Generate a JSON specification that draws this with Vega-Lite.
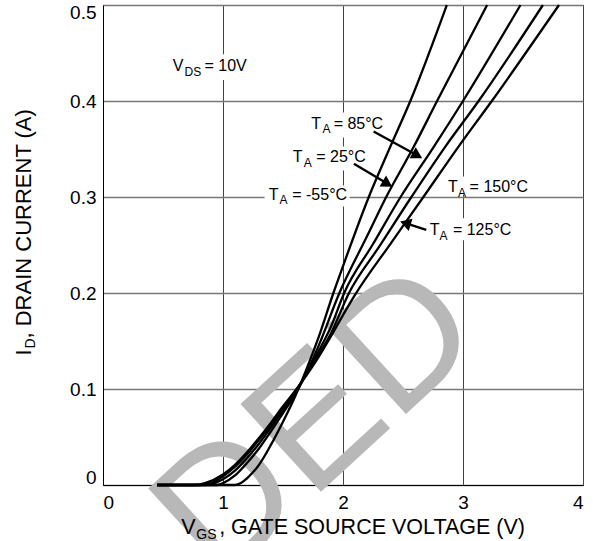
{
  "$schema": "https://vega.github.io/schema/vega-lite/v6.json",
  "width": 480,
  "height": 480,
  "autosize": {"type": "none"},
  "padding": {"left": 103, "top": 5, "right": 10, "bottom": 56},
  "background": "white",
  "config": {"view": {"stroke": "black", "strokeWidth": 1}, "font": "Liberation Sans"},
  "datasets": {
    "curves": [
      {"s": "-55", "x": 0.45, "y": 0}, {"s": "-55", "x": 1.1, "y": 0}, {"s": "-55", "x": 1.15, "y": 0.002}, {"s": "-55", "x": 1.2, "y": 0.007}, {"s": "-55", "x": 1.3, "y": 0.021}, {"s": "-55", "x": 1.4, "y": 0.042}, {"s": "-55", "x": 1.5, "y": 0.066}, {"s": "-55", "x": 1.6, "y": 0.092}, {"s": "-55", "x": 1.7, "y": 0.122}, {"s": "-55", "x": 1.8, "y": 0.155}, {"s": "-55", "x": 1.92, "y": 0.2}, {"s": "-55", "x": 2.0, "y": 0.228}, {"s": "-55", "x": 2.215, "y": 0.3}, {"s": "-55", "x": 2.393, "y": 0.352}, {"s": "-55", "x": 2.561, "y": 0.4}, {"s": "-55", "x": 2.865, "y": 0.5},
      {"s": "25", "x": 0.45, "y": 0}, {"s": "25", "x": 0.95, "y": 0}, {"s": "25", "x": 1.0, "y": 0.002}, {"s": "25", "x": 1.1, "y": 0.01}, {"s": "25", "x": 1.2, "y": 0.023}, {"s": "25", "x": 1.3, "y": 0.038}, {"s": "25", "x": 1.4, "y": 0.056}, {"s": "25", "x": 1.5, "y": 0.075}, {"s": "25", "x": 1.6, "y": 0.094}, {"s": "25", "x": 1.7, "y": 0.118}, {"s": "25", "x": 1.8, "y": 0.146}, {"s": "25", "x": 1.97, "y": 0.2}, {"s": "25", "x": 2.2, "y": 0.259}, {"s": "25", "x": 2.36, "y": 0.3}, {"s": "25", "x": 2.588, "y": 0.352}, {"s": "25", "x": 2.784, "y": 0.4}, {"s": "25", "x": 3.201, "y": 0.5},
      {"s": "85", "x": 0.45, "y": 0}, {"s": "85", "x": 0.85, "y": 0}, {"s": "85", "x": 0.95, "y": 0.003}, {"s": "85", "x": 1.0, "y": 0.006}, {"s": "85", "x": 1.1, "y": 0.015}, {"s": "85", "x": 1.2, "y": 0.028}, {"s": "85", "x": 1.3, "y": 0.043}, {"s": "85", "x": 1.4, "y": 0.06}, {"s": "85", "x": 1.5, "y": 0.078}, {"s": "85", "x": 1.6, "y": 0.096}, {"s": "85", "x": 1.7, "y": 0.117}, {"s": "85", "x": 1.8, "y": 0.14}, {"s": "85", "x": 1.9, "y": 0.165}, {"s": "85", "x": 2.01, "y": 0.2}, {"s": "85", "x": 2.25, "y": 0.251}, {"s": "85", "x": 2.48, "y": 0.3}, {"s": "85", "x": 2.755, "y": 0.352}, {"s": "85", "x": 3.0, "y": 0.4}, {"s": "85", "x": 3.479, "y": 0.5},
      {"s": "125", "x": 0.45, "y": 0}, {"s": "125", "x": 0.8, "y": 0}, {"s": "125", "x": 0.9, "y": 0.002}, {"s": "125", "x": 1.0, "y": 0.009}, {"s": "125", "x": 1.1, "y": 0.019}, {"s": "125", "x": 1.2, "y": 0.032}, {"s": "125", "x": 1.3, "y": 0.047}, {"s": "125", "x": 1.4, "y": 0.063}, {"s": "125", "x": 1.5, "y": 0.08}, {"s": "125", "x": 1.6, "y": 0.097}, {"s": "125", "x": 1.7, "y": 0.116}, {"s": "125", "x": 1.8, "y": 0.136}, {"s": "125", "x": 1.9, "y": 0.158}, {"s": "125", "x": 2.05, "y": 0.2}, {"s": "125", "x": 2.3, "y": 0.248}, {"s": "125", "x": 2.57, "y": 0.3}, {"s": "125", "x": 2.85, "y": 0.352}, {"s": "125", "x": 3.13, "y": 0.4}, {"s": "125", "x": 3.666, "y": 0.5},
      {"s": "150", "x": 0.45, "y": 0}, {"s": "150", "x": 0.75, "y": 0}, {"s": "150", "x": 0.85, "y": 0.002}, {"s": "150", "x": 1.0, "y": 0.011}, {"s": "150", "x": 1.1, "y": 0.021}, {"s": "150", "x": 1.2, "y": 0.034}, {"s": "150", "x": 1.3, "y": 0.049}, {"s": "150", "x": 1.4, "y": 0.065}, {"s": "150", "x": 1.5, "y": 0.082}, {"s": "150", "x": 1.6, "y": 0.098}, {"s": "150", "x": 1.7, "y": 0.115}, {"s": "150", "x": 1.8, "y": 0.134}, {"s": "150", "x": 1.9, "y": 0.155}, {"s": "150", "x": 2.0, "y": 0.177}, {"s": "150", "x": 2.1, "y": 0.198}, {"s": "150", "x": 2.4, "y": 0.252}, {"s": "150", "x": 2.67, "y": 0.3}, {"s": "150", "x": 2.96, "y": 0.352}, {"s": "150", "x": 3.24, "y": 0.4}, {"s": "150", "x": 3.8, "y": 0.5}
    ],
    "boxes": [
      {"id": "vds", "x": 0.554, "x2": 1.255, "y": 0.4219, "y2": 0.4486},
      {"id": "85", "x": 1.705, "x2": 2.355, "y": 0.3621, "y2": 0.3881},
      {"id": "25", "x": 1.555, "x2": 2.205, "y": 0.3277, "y2": 0.3527},
      {"id": "-55", "x": 1.346, "x2": 2.055, "y": 0.2901, "y2": 0.312},
      {"id": "150", "x": 2.846, "x2": 3.563, "y": 0.3027, "y2": 0.3214},
      {"id": "125", "x": 2.697, "x2": 3.43, "y": 0.2549, "y2": 0.2778}
    ],
    "arrows": [
      {"id": "85", "x": 2.255, "y": 0.3683, "x2": 2.62, "y2": 0.3433},
      {"id": "25", "x": 2.091, "y": 0.3347, "x2": 2.371, "y2": 0.3137},
      {"id": "125", "x": 2.694, "y": 0.2658, "x2": 2.52, "y2": 0.2727}
    ],
    "ann": [
      {"k": "main", "x": 0.582, "y": 0.4312, "t": "V"},
      {"k": "sub", "x": 0.679, "y": 0.4312, "t": "DS"},
      {"k": "main", "x": 0.846, "y": 0.4312, "t": "= 10V"},
      {"k": "main", "x": 1.736, "y": 0.3711, "t": "T"},
      {"k": "sub", "x": 1.83, "y": 0.3711, "t": "A"},
      {"k": "main", "x": 1.922, "y": 0.3711, "t": "= 85°C"},
      {"k": "main", "x": 1.582, "y": 0.3363, "t": "T"},
      {"k": "sub", "x": 1.672, "y": 0.3363, "t": "A"},
      {"k": "main", "x": 1.777, "y": 0.3363, "t": "= 25°C"},
      {"k": "main", "x": 1.382, "y": 0.2971, "t": "T"},
      {"k": "sub", "x": 1.471, "y": 0.2971, "t": "A"},
      {"k": "main", "x": 1.577, "y": 0.2971, "t": "= -55°C"},
      {"k": "main", "x": 2.875, "y": 0.305, "t": "T"},
      {"k": "sub", "x": 2.958, "y": 0.305, "t": "A"},
      {"k": "main", "x": 3.055, "y": 0.305, "t": "= 150°C"},
      {"k": "main", "x": 2.722, "y": 0.2599, "t": "T"},
      {"k": "sub", "x": 2.805, "y": 0.2599, "t": "A"},
      {"k": "main", "x": 2.916, "y": 0.2599, "t": "= 125°C"}
    ],
    "xtitle": [
      {"k": "main", "x": 0.652, "y": -0.0511, "t": "V"},
      {"k": "sub", "x": 0.778, "y": -0.0511, "t": "GS"},
      {"k": "main", "x": 0.968, "y": -0.0511, "t": ", GATE SOURCE VOLTAGE (V)"}
    ],
    "ytitle": [
      {"k": "main", "x": -0.596, "y": 0.1348, "t": "I"},
      {"k": "sub", "x": -0.596, "y": 0.1421, "t": "D"},
      {"k": "main", "x": -0.596, "y": 0.1526, "t": ", DRAIN CURRENT (A)"}
    ],
    "wm": [{"x": 1.79, "y": 0.0635, "t": "DED"}]
  },
  "layer": [
    {
      "data": {"name": "wm"},
      "mark": {"type": "text", "fontSize": 173, "font": "Liberation Sans", "angle": 317.5, "align": "center", "baseline": "middle", "color": "#b8b8b8", "clip": false},
      "encoding": {
        "x": {"field": "x", "type": "quantitative", "scale": {"domain": [0, 4], "nice": false, "zero": false},
          "axis": {"values": [0, 1, 2, 3, 4], "format": "d", "title": null, "labelFontSize": 19, "labelFont": "Liberation Sans", "labelColor": "black", "labelPadding": 8, "labelFlush": true, "labelOverlap": false, "ticks": false, "domainColor": "black", "domainWidth": 1, "grid": true, "gridColor": "#444", "gridWidth": 1}},
        "y": {"field": "y", "type": "quantitative", "scale": {"domain": [0, 0.5], "nice": false, "zero": false},
          "axis": {"values": [0, 0.1, 0.2, 0.3, 0.4, 0.5], "labelExpr": "datum.value == 0 ? '0' : format(datum.value, '.1f')", "title": null, "labelFontSize": 19, "labelFont": "Liberation Sans", "labelColor": "black", "labelPadding": 7, "labelFlush": true, "labelFlushOffset": 2, "labelOverlap": false, "ticks": false, "domainColor": "black", "domainWidth": 1, "grid": true, "gridColor": "#777", "gridWidth": 1.3}},
        "text": {"field": "t"}
      }
    },
    {
      "data": {"name": "boxes"},
      "mark": {"type": "rect", "fill": "white", "stroke": null},
      "encoding": {
        "x": {"field": "x", "type": "quantitative", "title": null},
        "x2": {"field": "x2"},
        "y": {"field": "y", "type": "quantitative", "title": null},
        "y2": {"field": "y2"}
      }
    },
    {
      "data": {"name": "curves"},
      "mark": {"type": "line", "color": "black", "strokeWidth": 2.3, "interpolate": "monotone"},
      "encoding": {
        "x": {"field": "x", "type": "quantitative", "title": null},
        "y": {"field": "y", "type": "quantitative", "title": null},
        "detail": {"field": "s"}
      }
    },
    {
      "data": {"name": "arrows"},
      "mark": {"type": "rule", "color": "black", "strokeWidth": 2.3},
      "encoding": {
        "x": {"field": "x", "type": "quantitative", "title": null},
        "y": {"field": "y", "type": "quantitative", "title": null},
        "x2": {"field": "x2"},
        "y2": {"field": "y2"}
      }
    },
    {
      "data": {"name": "arrows"},
      "transform": [{"filter": "datum.id == '85'"}],
      "mark": {"type": "point", "shape": "triangle-right", "filled": true, "color": "black", "size": 160, "opacity": 1, "angle": 29.7},
      "encoding": {"x": {"field": "x2", "type": "quantitative", "title": null}, "y": {"field": "y2", "type": "quantitative", "title": null}}
    },
    {
      "data": {"name": "arrows"},
      "transform": [{"filter": "datum.id == '25'"}],
      "mark": {"type": "point", "shape": "triangle-right", "filled": true, "color": "black", "size": 160, "opacity": 1, "angle": 31},
      "encoding": {"x": {"field": "x2", "type": "quantitative", "title": null}, "y": {"field": "y2", "type": "quantitative", "title": null}}
    },
    {
      "data": {"name": "arrows"},
      "transform": [{"filter": "datum.id == '125'"}],
      "mark": {"type": "point", "shape": "triangle-right", "filled": true, "color": "black", "size": 160, "opacity": 1, "angle": 197.3},
      "encoding": {"x": {"field": "x2", "type": "quantitative", "title": null}, "y": {"field": "y2", "type": "quantitative", "title": null}}
    },
    {
      "data": {"name": "ann"},
      "transform": [{"filter": "datum.k == 'main'"}],
      "mark": {"type": "text", "fontSize": 16, "font": "Liberation Sans", "align": "left", "baseline": "alphabetic", "color": "black"},
      "encoding": {"x": {"field": "x", "type": "quantitative", "title": null}, "y": {"field": "y", "type": "quantitative", "title": null}, "text": {"field": "t"}}
    },
    {
      "data": {"name": "ann"},
      "transform": [{"filter": "datum.k == 'sub'"}],
      "mark": {"type": "text", "fontSize": 12, "font": "Liberation Sans", "align": "left", "baseline": "alphabetic", "color": "black", "dy": 4.5},
      "encoding": {"x": {"field": "x", "type": "quantitative", "title": null}, "y": {"field": "y", "type": "quantitative", "title": null}, "text": {"field": "t"}}
    },
    {
      "data": {"name": "xtitle"},
      "transform": [{"filter": "datum.k == 'main'"}],
      "mark": {"type": "text", "fontSize": 21.5, "font": "Liberation Sans", "align": "left", "baseline": "alphabetic", "color": "black", "clip": false},
      "encoding": {"x": {"field": "x", "type": "quantitative", "title": null}, "y": {"field": "y", "type": "quantitative", "title": null}, "text": {"field": "t"}}
    },
    {
      "data": {"name": "xtitle"},
      "transform": [{"filter": "datum.k == 'sub'"}],
      "mark": {"type": "text", "fontSize": 14, "font": "Liberation Sans", "align": "left", "baseline": "alphabetic", "color": "black", "dy": 5, "clip": false},
      "encoding": {"x": {"field": "x", "type": "quantitative", "title": null}, "y": {"field": "y", "type": "quantitative", "title": null}, "text": {"field": "t"}}
    },
    {
      "data": {"name": "ytitle"},
      "transform": [{"filter": "datum.k == 'main'"}],
      "mark": {"type": "text", "fontSize": 22, "font": "Liberation Sans", "align": "left", "baseline": "alphabetic", "angle": 270, "color": "black", "clip": false},
      "encoding": {"x": {"field": "x", "type": "quantitative", "title": null}, "y": {"field": "y", "type": "quantitative", "title": null}, "text": {"field": "t"}}
    },
    {
      "data": {"name": "ytitle"},
      "transform": [{"filter": "datum.k == 'sub'"}],
      "mark": {"type": "text", "fontSize": 14, "font": "Liberation Sans", "align": "left", "baseline": "alphabetic", "angle": 270, "color": "black", "dy": 4, "clip": false},
      "encoding": {"x": {"field": "x", "type": "quantitative", "title": null}, "y": {"field": "y", "type": "quantitative", "title": null}, "text": {"field": "t"}}
    }
  ]
}
